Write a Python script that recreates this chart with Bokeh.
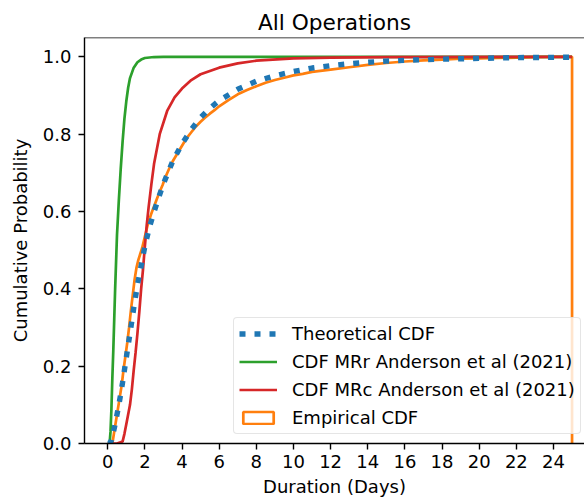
from bokeh.plotting import figure
from bokeh.models import Range1d, FixedTicker, PrintfTickFormatter, Legend, LegendItem, Span
from bokeh.embed import file_html
from bokeh.resources import INLINE

FONT = "DejaVu Sans"
C0, C1, C2, C3 = "#1f77b4", "#ff7f0e", "#2ca02c", "#d62728"
NAN = float("nan")

# ---- data ----
x_ticks = [0, 2, 4, 6, 8, 10, 12, 14, 16, 18, 20, 22, 24]
y_ticks = [0.0, 0.2, 0.4, 0.6, 0.8, 1.0]

theo_x = [0, 0.1, 0.2, 0.3, 0.4, 0.5, 0.6, 0.7, 0.8, 0.9, 1.0, 1.2, 1.4, 1.6, 1.8, 2.0,
          2.25, 2.5, 2.75, 3.0, 3.5, 4.0, 4.5, 5.0, 5.5, 6.0, 7.0, 8.0, 9.0, 10.0, 11.0,
          12.0, 13.0, 14.0, 15.0, 16.0, 18.0, 20.0, 22.0, 25.0]
theo_y = [0, 0.0, 0.008, 0.028, 0.05, 0.075, 0.1, 0.128, 0.158, 0.19, 0.222, 0.285, 0.35,
          0.41, 0.46, 0.51, 0.56, 0.6, 0.637, 0.672, 0.73, 0.775, 0.812, 0.843, 0.867,
          0.887, 0.916, 0.937, 0.951, 0.962, 0.971, 0.977, 0.982, 0.986, 0.989, 0.991,
          0.994, 0.996, 0.998, 0.999]

mrr_x = [0, 0.1, 0.15, 0.2, 0.25, 0.3, 0.35, 0.4, 0.5, 0.6, 0.7, 0.8, 0.9, 1.0, 1.1,
         1.2, 1.4, 1.6, 1.8, 2.0, 2.5, 3.0, 4.0, 25.0]
mrr_y = [0, 0.0, 0.03, 0.09, 0.17, 0.24, 0.32, 0.40, 0.54, 0.63, 0.71, 0.78, 0.84, 0.885,
         0.92, 0.945, 0.972, 0.986, 0.993, 0.997, 0.9995, 1.0, 1.0, 1.0]

mrc_x = [0, 0.5, 0.8, 0.9, 1.0, 1.1, 1.2, 1.3, 1.4, 1.5, 1.6, 1.7, 1.8, 1.9, 2.0, 2.1,
         2.2, 2.35, 2.5, 2.8, 3.2, 3.6, 4.0, 4.5, 5.0, 6.0, 7.0, 8.0, 10.0, 12.0, 15.0, 25.0]
mrc_y = [0, 0, 0.005, 0.025, 0.05, 0.075, 0.1, 0.14, 0.19, 0.235, 0.285, 0.34, 0.40, 0.45,
         0.51, 0.565, 0.61, 0.67, 0.725, 0.80, 0.86, 0.895, 0.918, 0.94, 0.955, 0.972,
         0.983, 0.99, 0.996, 0.998, 0.999, 1.0]

# empirical cumulative fraction at each bin edge
emp_x = [0.25, 0.35, 0.45, 0.55, 0.65, 0.75, 0.85, 0.95, 1.05, 1.15, 1.25, 1.35, 1.45,
         1.55, 1.65, 1.75, 1.85, 1.95, 2.05, 2.15, 2.25, 2.35, 2.45, 2.55, 2.65, 2.75,
         2.85, 2.95, 3.1, 3.3, 3.5, 3.75, 4.0, 4.25, 4.5, 4.75, 5.0, 5.25, 5.5, 5.75,
         6.0, 6.5, 7.0, 7.5, 8.0, 8.5, 9.0, 9.5, 10.0, 10.5, 11.0, 12.0, 13.0, 14.0,
         15.0, 16.0, 17.0, 18.0, 19.0, 20.0, 21.0, 22.0, 23.0, 24.0, 25.0]
emp_y = [0.0, 0.03, 0.06, 0.09, 0.12, 0.15, 0.19, 0.225, 0.26, 0.30, 0.345, 0.385,
         0.425, 0.455, 0.475, 0.49, 0.505, 0.525, 0.545, 0.565, 0.58, 0.595, 0.608,
         0.62, 0.633, 0.645, 0.657, 0.668, 0.688, 0.71, 0.73, 0.75, 0.77, 0.79, 0.805,
         0.82, 0.832, 0.843, 0.853, 0.862, 0.872, 0.888, 0.903, 0.914, 0.924, 0.933,
         0.94, 0.946, 0.952, 0.956, 0.961, 0.967, 0.973, 0.979, 0.984, 0.988, 0.991,
         0.993, 0.995, 0.996, 0.997, 0.998, 0.999, 1.0, 1.0]

labels = ["Theoretical CDF", "CDF MRr Anderson et al (2021)",
          "CDF MRc Anderson et al (2021)", "Empirical CDF"]

# ---- figure ----
p = figure(width=584, height=499, output_backend="svg", toolbar_location=None,
           x_range=Range1d(-1.25, 25.67), y_range=Range1d(0, 1.05),
           min_border_left=84, min_border_right=0, min_border_top=37,
           min_border_bottom=56)
p.outline_line_color = None
p.xgrid.visible = False
p.ygrid.visible = False
p.background_fill_color = "white"
p.border_fill_color = "white"

p.title.text = "All Operations"
p.title.align = "center"
p.title.text_font = FONT
p.title.text_font_size = "21.7px"
p.title.text_font_style = "normal"
p.title.text_color = "black"
p.title.offset = 4
p.title.standoff = 6

for ax in (p.xaxis[0], p.yaxis[0]):
    ax.axis_line_color = "black"
    ax.axis_line_width = 1.4
    ax.major_tick_line_color = "black"
    ax.major_tick_line_width = 1.4
    ax.major_tick_out = 6
    ax.major_tick_in = 0
    ax.minor_tick_out = 0
    ax.minor_tick_in = 0
    ax.major_label_text_font = FONT
    ax.major_label_text_font_size = "18px"
    ax.major_label_text_color = "black"
    ax.axis_label_text_font = FONT
    ax.axis_label_text_font_size = "18px"
    ax.axis_label_text_font_style = "normal"
    ax.axis_label_text_color = "black"

p.xaxis.ticker = FixedTicker(ticks=x_ticks)
p.yaxis.ticker = FixedTicker(ticks=y_ticks)
p.yaxis.formatter = PrintfTickFormatter(format="%.1f")
p.xaxis.axis_label = "Duration (Days)"
p.yaxis.axis_label = "Cumulative Probability"
p.xaxis.major_label_standoff = 5
p.yaxis.major_label_standoff = 7
p.xaxis.axis_label_standoff = 5
p.yaxis.axis_label_standoff = 9

p.add_layout(Span(location=1.05, dimension="width", line_color="black", line_width=1.4))

# empirical CDF outline (histtype='step': rises at first edge, drops at last edge)
sx = [emp_x[0]] + emp_x + [emp_x[-1]]
sy = [0] + emp_y + [0]
p.line(sx, sy, line_color=C1, line_width=2.7)

r_mrr = p.line(mrr_x, mrr_y, line_color=C2, line_width=2.7)
r_mrc = p.line(mrc_x, mrc_y, line_color=C3, line_width=2.7)
r_theo = p.line(theo_x, theo_y, line_color=C0, line_width=5.4, line_dash="6 9")
r_emp_leg = p.quad(left=[NAN], right=[NAN], bottom=[NAN], top=[NAN], fill_color=None,
                   line_color=C1, line_width=2.7)

legend = Legend(items=[LegendItem(label=labels[0], renderers=[r_theo]),
                       LegendItem(label=labels[1], renderers=[r_mrr]),
                       LegendItem(label=labels[2], renderers=[r_mrc]),
                       LegendItem(label=labels[3], renderers=[r_emp_leg])],
                location=(149, 9))
legend.label_text_font = FONT
legend.label_text_font_size = "18px"
legend.label_text_color = "black"
legend.glyph_width = 38
legend.glyph_height = 15
legend.label_height = 20
legend.label_standoff = 15
legend.spacing = 7
legend.padding = 5
legend.margin = 0
legend.border_line_color = "#cccccc"
legend.border_line_width = 1.4
legend.background_fill_color = "white"
legend.background_fill_alpha = 0.8
if "border_radius" in Legend.properties():
    legend.border_radius = 4
p.add_layout(legend)

open("out.html", "w").write(file_html(p, INLINE))
